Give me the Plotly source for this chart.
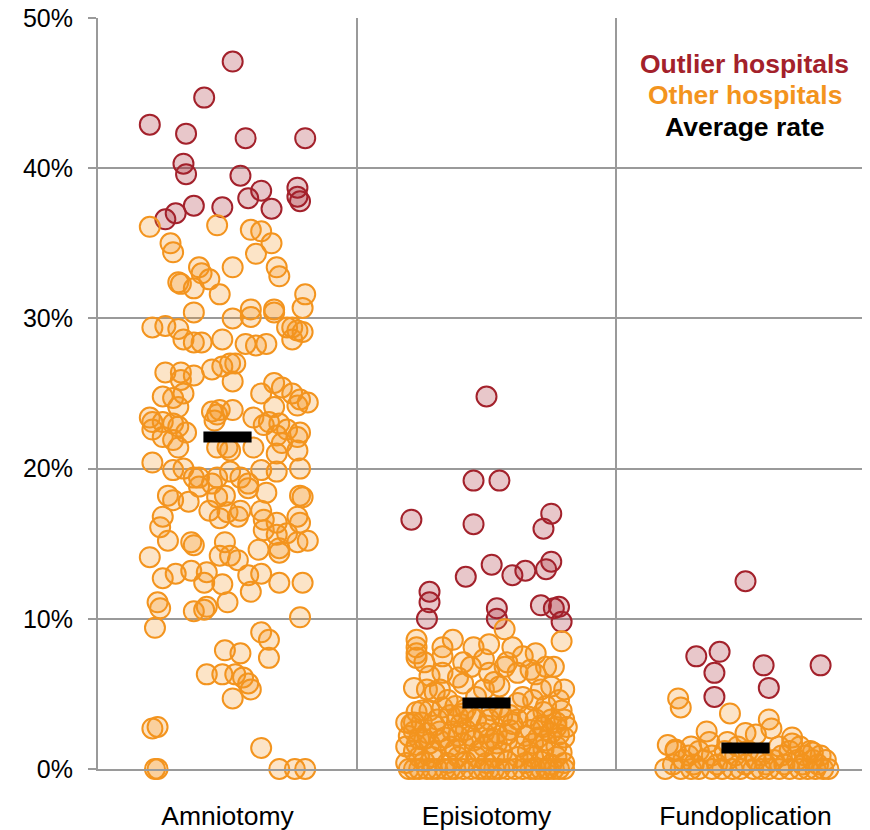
import plotly.graph_objects as go

categories = ["Amniotomy", "Episiotomy", "Fundoplication"]
average_rate = [22.1, 4.4, 1.4]
y_ticks = [0, 10, 20, 30, 40, 50]
y_tick_labels = ["0%", "10%", "20%", "30%", "40%", "50%"]

# jitter is in percent of the column width, rate in percent
amnio_out_jit = [2, -9, -30, -16, 7, 30, -17, -16, 5, 13, 27, 27, 28, 8, 17, -2, -13, -20, -24]
amnio_out_val = [47.1, 44.7, 42.9, 42.3, 42.0, 42.0, 40.3, 39.6, 39.5, 38.5, 38.7, 38.1, 37.8, 38.0,
                 37.3, 37.4, 37.5, 37.0, 36.6]

amnio_oth_jit = [-30, -4, -22, -21, 9, 13, 17, 11, -11, -10, -7, 2, -19, -18, -13, 19, 20, -3, 30, 29,
                 -13, 9, 9, 18, 18, 2, -29, -24, -19, -17, -13, -10, -2, 7, 11, 15, 23, 25, 27, 29,
                 25, -24, -18, -18, -13, -6, -2, 1, 3, 2, -25, -21, -17, -19, -29, -30, -25, -21, -19, -16,
                 -25, -21, -19, -29, -6, -4, -3, 2, -5, 13, 18, 21, 25, 28, 31, 27, 18, 10, 14, 16,
                 20, 23, 28, 27, 19, 21, 19, 27, 28, 0, 1, -4, 10, -29, -21, -17, -13, -11, -4, 1,
                 5, 13, 19, -6, 8, -23, -21, -15, -11, -7, -4, -1, 0, -3, 4, 5, 8, 15, 13, 14,
                 19, 14, 19, 23, 27, 28, 28, 29, 31, 27, 20, 20, 12, -25, -26, -23, -14, -13, -1, -3,
                 1, 4, -30, -25, -20, -14, -8, -9, -2, 8, 13, 9, 20, 29, -27, -26, -13, -9, -8, 0,
                 28, -28, 13, 16, 16, -1, 5, -8, -2, 3, 6, 8, 9, 2, -29, -27, -28, -27, 13, 20,
                 26, 30]
amnio_oth_val = [36.1, 36.2, 35.0, 34.4, 35.9, 35.8, 35.0, 34.3, 33.4, 33.0, 32.6, 33.4, 32.4, 32.3, 32.0,
                 33.4, 32.8, 31.6, 31.6, 30.7, 30.4, 30.6, 30.1, 30.6, 30.4, 30.0, 29.4, 29.5, 29.3, 28.6,
                 28.4, 28.4, 28.6, 28.3, 28.2, 28.3, 29.4, 29.4, 29.2, 29.1, 28.6, 26.4, 26.4, 25.9, 26.2,
                 26.6, 26.8, 27.0, 27.0, 25.8, 24.8, 24.7, 25.0, 24.1, 23.1, 23.4, 23.1, 23.0, 22.8, 22.4,
                 22.1, 21.9, 21.4, 22.6, 23.8, 23.6, 23.9, 23.9, 23.2, 25.0, 25.7, 25.4, 25.0, 24.6, 24.4,
                 24.2, 24.1, 23.4, 22.9, 23.1, 23.0, 22.6, 22.4, 22.1, 22.2, 21.7, 21.0, 21.2, 20.0, 21.4,
                 21.2, 21.4, 21.4, 20.4, 19.9, 20.0, 19.4, 19.4, 19.4, 19.8, 19.4, 19.9, 19.8, 19.0, 19.0,
                 18.2, 17.9, 17.8, 18.8, 17.2, 18.1, 18.2, 17.1, 16.7, 16.8, 17.2, 18.7, 18.4, 17.2, 16.6,
                 16.4, 15.9, 15.6, 15.7, 16.8, 16.4, 18.2, 18.1, 15.2, 15.1, 14.7, 14.4, 14.6, 16.8, 16.1,
                 15.2, 15.1, 14.9, 15.1, 14.2, 14.2, 13.9, 14.1, 12.7, 13.0, 13.2, 13.1, 12.4, 12.3, 12.9,
                 13.0, 11.8, 12.4, 12.4, 11.1, 10.7, 10.5, 10.6, 10.8, 11.1, 10.1, 9.4, 9.1, 8.6, 7.4,
                 7.9, 7.7, 6.3, 6.3, 6.3, 6.1, 5.7, 5.3, 4.7, 2.7, 2.8, 0.0, 0.0, 1.4, 0.0,
                 0.0, 0.0]

episio_out_jit = [0, -5, 5, -29, -5, 25, 22, 2, 10, 15, 23, 25, -8, -22, -22, -23, 4, 4, 21, 26, 28, 29]
episio_out_val = [24.8, 19.2, 19.2, 16.6, 16.3, 17.0, 16.0, 13.6, 12.9, 13.2, 13.3, 13.8, 12.8, 11.8,
                  11.1, 10.0, 10.7, 10.0, 10.9, 10.7, 10.8, 9.8]

episio_oth_jit = [7, 29, -27, -27, -27, -27, -24, -17, -13, -17, -9, -5, 1, -1, 10, 8, 14, 19, 23, 26,
                  12, 17, 19, -17, -11, -9, 1, 3, 5, 21, 25, 30, 28, -28, -23, -20, -18, -15, -1, -4,
                  14, 18, 12, -25, -22, -17, -31, -28, -25, -19, -14, -11, -6, -4, 1, 6, 12, 16, 19, 25,
                  30, 31, 27, 22, 17, 9, 4, -1, -8, -13, -18, -23, -28, -31, -27, -22, -18, -14, -9, -5,
                  -1, 4, 8, 13, 18, 23, 27, 30, -26, -21, -11, -4, 3, 12, 18, 27, -30, -26, -21, -16,
                  -12, -9, -6, -3, 1, 5, 11, 14, 17, 19, 23, 26, 28, -12, -8, 5, 23, 7, -6, -22,
                  -26, -11, 1, 15, 25,
                  -29, -20, -10, 0, 10, 21, 27, -30, -24, -16, -6, 3, 8, 20, 28,
                  -28, -20, -12, -3, 6, 16, 22, 29, -31, -24, -15, -8, 0, 8, 15, 21, 25, 30,
                  -28, -23, -19, -14, -1, 3, 8, 21, 24, 30, -27, -9, 2, 9, 22, 29]
episio_oth_val = [9.3, 8.5, 8.6, 8.1, 7.7, 7.4, 7.1, 8.1, 8.6, 7.5, 7.1, 8.1, 8.3, 7.3, 8.1, 7.1, 7.5,
                  7.7, 6.8, 6.8, 6.4, 6.6, 6.3, 6.4, 6.1, 5.7, 6.4, 5.8, 5.5, 5.3, 5.5, 5.3, 4.6, 5.4,
                  5.3, 5.1, 5.3, 4.6, 5.3, 4.8, 4.8, 4.6, 4.4, 3.9, 3.9, 4.1, 3.1, 3.1, 3.1, 3.3, 3.6,
                  3.5, 3.5, 3.3, 3.3, 3.5, 3.3, 3.5, 3.3, 3.3, 3.3, 2.8, 2.8, 2.8, 2.6, 2.6, 2.4, 2.4,
                  2.6, 2.5, 2.5, 2.4, 2.5, 1.5, 1.6, 1.7, 1.9, 1.5, 1.7, 1.9, 1.5, 1.7, 1.9, 1.5, 1.7,
                  1.9, 1.5, 2.1, 0.8, 0.8, 0.8, 0.8, 0.8, 0.8, 0.8, 0.8, 0.0, 0.0, 0.0, 0.0, 0.0, 0.0,
                  0.0, 0.0, 0.0, 0.0, 0.0, 0.0, 0.0, 0.0, 0.0, 0.0, 0.0, 4.2, 4.0, 4.1, 4.2, 6.8, 6.8,
                  6.2, 2.0, 2.2, 2.0, 2.2, 2.4,
                  3.0, 2.9, 3.0, 2.9, 3.0, 2.9, 3.1, 2.2, 2.0, 2.1, 2.2, 2.0, 2.3, 2.1, 2.3,
                  1.2, 1.1, 1.3, 1.2, 1.1, 1.2, 1.3, 1.1, 0.4, 0.5, 0.4, 0.5, 0.4, 0.5, 0.4, 0.5, 0.3, 0.4,
                  0.0, 0.0, 0.0, 0.0, 0.0, 0.0, 0.0, 0.0, 0.0, 0.0, 3.8, 3.7, 3.9, 3.6, 3.8, 3.9]

fundo_out_jit = [0, -19, -10, -12, -12, 7, 9, 29]
fundo_out_val = [12.5, 7.5, 7.8, 6.4, 4.8, 6.9, 5.4, 6.9]

fundo_oth_jit = [-26, -25, -6, -15, 0, 4, 9, 10, -7, 18, 18, -30, -27, 26, -14,
                 -31, -25, -21, -18, -13, -9, -5, -2, 3, 6, 9, 13, 17, 21, 24, 27, 30, 32,
                 -28, -20, -11, 0, 8, 15, 22, 28,
                 -24, -16, -7, 4, 11, 20, 26, 31,
                 -22, -13, -4, 6, 14, 23, 29,
                 -27, -18, -8, 1, 17, 25,
                 -21, -3, 13, 21]
fundo_oth_val = [4.7, 4.1, 3.7, 2.5, 2.4, 2.3, 3.3, 2.7, 1.8, 2.1, 1.7, 1.6, 1.3, 1.1, 1.8,
                 0.0, 0.0, 0.0, 0.0, 0.0, 0.0, 0.0, 0.0, 0.0, 0.0, 0.0, 0.0, 0.0, 0.0, 0.0, 0.0, 0.0, 0.0,
                 0.3, 0.3, 0.3, 0.3, 0.3, 0.3, 0.3, 0.3,
                 0.6, 0.6, 0.6, 0.6, 0.6, 0.6, 0.6, 0.6,
                 0.9, 0.9, 0.9, 0.9, 0.9, 0.9, 0.9,
                 1.2, 1.2, 1.2, 1.2, 1.2, 1.2,
                 1.5, 1.5, 1.5, 1.5]

RED = "#a3212b"
ORANGE = "#f3941e"
GRID = "#9a9a9a"
FONT = "Liberation Sans, Arial, sans-serif"


def place(idx, jit):
    return [idx + j / 100 for j in jit]


outliers = [(amnio_out_jit, amnio_out_val), (episio_out_jit, episio_out_val), (fundo_out_jit, fundo_out_val)]
others = [(amnio_oth_jit, amnio_oth_val), (episio_oth_jit, episio_oth_val), (fundo_oth_jit, fundo_oth_val)]

fig = go.Figure()

for i, (jit, val) in enumerate(outliers):
    fig.add_trace(go.Scatter(
        x=place(i, jit), y=val, mode="markers", cliponaxis=False, hoverinfo="skip",
        marker=dict(size=20, color="rgba(163,33,43,0.25)", line=dict(color=RED, width=2)),
    ))

for i, (jit, val) in enumerate(others):
    fig.add_trace(go.Scatter(
        x=place(i, jit), y=val, mode="markers", cliponaxis=False, hoverinfo="skip",
        marker=dict(size=20, color="rgba(243,148,30,0.25)", line=dict(color=ORANGE, width=2)),
    ))

half = 0.093
for i, avg in enumerate(average_rate):
    fig.add_trace(go.Scatter(
        x=[i - half, i + half], y=[avg, avg], mode="lines", cliponaxis=False,
        line=dict(color="black", width=11), hoverinfo="skip",
    ))

legend = [("Outlier hospitals", RED), ("Other hospitals", ORANGE), ("Average rate", "black")]
for k, (txt, col) in enumerate(legend):
    fig.add_annotation(
        x=0.838, y=0.939 - 0.042 * k, xref="paper", yref="paper",
        xanchor="center", yanchor="middle", showarrow=False,
        text=f"<b>{txt}</b>", font=dict(family=FONT, size=26.5, color=col),
    )

# the page body adds an 8px offset, so margins are trimmed by that amount
fig.update_layout(
    width=870, height=830,
    margin=dict(l=90, r=8, t=10, b=69, autoexpand=False),
    plot_bgcolor="white", paper_bgcolor="white",
    showlegend=False,
    font=dict(family=FONT, size=25, color="black"),
)
fig.update_xaxes(
    range=[-0.5, -0.5 + 772 / 259],
    tickvals=[0, 1, 2], ticktext=categories,
    showgrid=False, ticks="", ticklabelstandoff=22, automargin=False,
    showline=True, linecolor=GRID, linewidth=2,
    minor=dict(tickvals=[0.5, 1.5], showgrid=True, gridcolor=GRID, gridwidth=1.5, ticks=""),
    zeroline=False,
    tickfont=dict(size=26.5),
)
fig.update_yaxes(
    range=[0, 50],
    tickvals=y_ticks, ticktext=y_tick_labels,
    showgrid=False, ticks="outside", ticklen=8, tickcolor=GRID, tickwidth=1.5,
    ticklabelstandoff=10, automargin=False, ticklabeloverflow="allow",
    showline=True, linecolor=GRID, linewidth=2,
    minor=dict(tickvals=[10, 20, 30, 40], showgrid=True, gridcolor=GRID, gridwidth=1.5, ticks=""),
    zeroline=False,
    tickfont=dict(size=25),
)

fig.write_html("out.html")
